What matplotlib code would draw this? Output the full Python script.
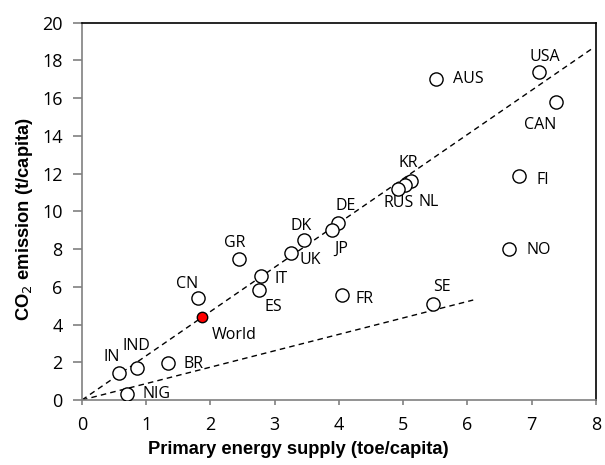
import numpy as np
import matplotlib
matplotlib.use('Agg')
import matplotlib.pyplot as plt

# data (toe/capita, t CO2/capita)
countries = ['USA', 'AUS', 'CAN', 'FI', 'KR', 'NL', 'RUS', 'DE', 'JP', 'DK', 'UK',
             'GR', 'IT', 'ES', 'CN', 'FR', 'SE', 'NO', 'IN', 'IND', 'BR', 'NIG']
energy = [7.11, 5.51, 7.38, 6.80, 5.12, 5.03, 4.92, 3.98, 3.89, 3.46, 3.25,
          2.44, 2.79, 2.76, 1.80, 4.05, 5.46, 6.64, 0.58, 0.85, 1.34, 0.70]
co2 = [17.38, 17.0, 15.8, 11.85, 11.6, 11.4, 11.2, 9.37, 9.0, 8.48, 7.8,
       7.47, 6.57, 5.83, 5.4, 5.56, 5.09, 8.0, 1.43, 1.7, 1.96, 0.3]
world = (1.87, 4.4)

# dashed reference lines from origin
line1_x = [0, 7.95]
line1_y = [0, 18.65]
line2_x = [0, 6.09]
line2_y = [0, 5.3]

# label offsets in pixels (dx, dy, ha)
offsets = {
    'USA': (6, 15, 'center'), 'AUS': (17, 0, 'left'), 'CAN': (-16, -23, 'center'),
    'FI': (18, -4, 'left'), 'KR': (-3, 18, 'center'), 'NL': (13, -17, 'left'),
    'RUS': (1, -14, 'center'), 'DE': (8, 17, 'center'), 'JP': (9, -19, 'center'),
    'DK': (-3, 14, 'center'), 'UK': (9, -7, 'left'), 'GR': (-4, 16, 'center'),
    'IT': (13, -3, 'left'), 'ES': (14, -17, 'center'), 'CN': (-11, 14, 'center'),
    'FR': (13, -4, 'left'), 'SE': (9, 17, 'center'), 'NO': (18, -1, 'left'),
    'IN': (-8, 16, 'center'), 'IND': (0, 22, 'center'), 'BR': (15, -1, 'left'),
    'NIG': (16, 0, 'left'),
}

fig = plt.figure(figsize=(6.05, 4.65), dpi=100)
ax = fig.add_axes([0.1355, 0.1398, 0.8495, 0.8113])

ax.plot(line1_x, line1_y, color='black', ls=(0, (4, 3)), lw=1)
ax.plot(line2_x, line2_y, color='black', ls=(0, (4, 3)), lw=1)

ax.plot(energy, co2, 'o', ms=9.5, mfc='white', mec='black', mew=1, ls='none', zorder=3)
ax.plot([world[0]], [world[1]], 'o', ms=7.5, mfc='red', mec='black', mew=1, zorder=3)

lab_font = dict(family='Open Sans', fontsize=11.5)
for name, x, y in zip(countries, energy, co2):
    dx, dy, ha = offsets[name]
    ax.annotate(name, (x, y), xytext=(dx * 0.72, dy * 0.72), textcoords='offset points',
                ha=ha, va='center', **lab_font)
ax.annotate('World', world, xytext=(32 * 0.72, -18 * 0.72), textcoords='offset points',
            ha='center', va='center', **lab_font)

ax.set_xlim(0, 8)
ax.set_ylim(0, 20)
ax.set_xticks(range(0, 9))
ax.set_yticks(range(0, 21, 2))

for s in ['top', 'right']:
    ax.spines[s].set_color('black')
for s in ['left', 'bottom']:
    ax.spines[s].set_color('#808080')
for s in ax.spines.values():
    s.set_linewidth(1.2)

ax.tick_params(direction='out', width=1.2, color='#808080', labelsize=13)
ax.tick_params(axis='x', length=3.3, pad=8.5)
ax.tick_params(axis='y', length=6.5, pad=7.5)
for t in ax.get_xticklabels() + ax.get_yticklabels():
    t.set_family('Open Sans')

ax.set_xlabel('Primary energy supply (toe/capita)', fontsize=13.2, fontweight='bold',
              family='Liberation Sans')
ax.set_ylabel(r'CO$_2$ emission (t/capita)', fontsize=13.2, fontweight='bold',
              family='Liberation Sans')
ax.xaxis.set_label_coords(0.42, -0.11)
ax.yaxis.set_label_coords(-0.092, 0.48)

fig.savefig('out.png', dpi=100)
